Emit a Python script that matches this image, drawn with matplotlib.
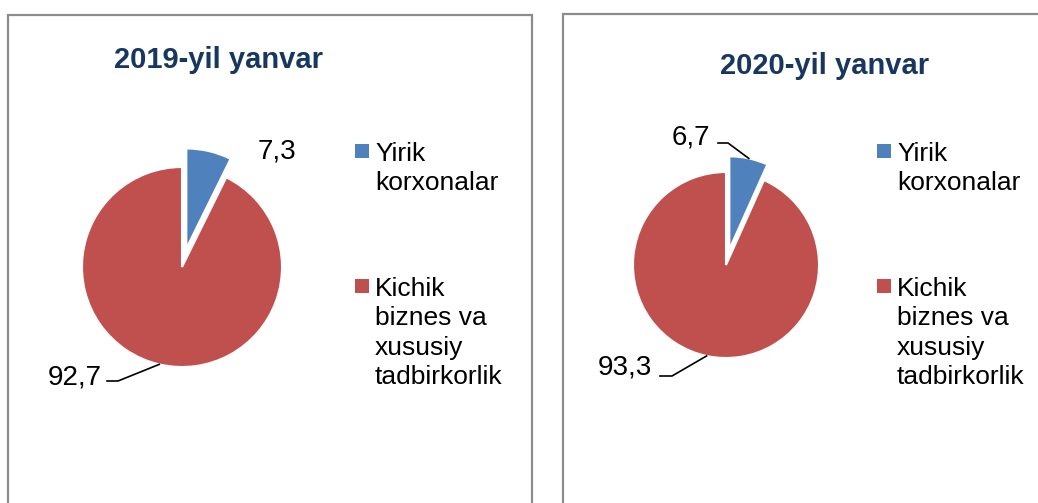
"""
Two pie charts: share of large enterprises vs small business, Jan 2019 / Jan 2020.
"""

import numpy as np
import matplotlib
matplotlib.use("Agg")
import matplotlib.pyplot as plt
from matplotlib.patches import Rectangle

plt.rcParams['font.family'] = ['Liberation Sans', 'DejaVu Sans']

# data
categories = ["Yirik\nkorxonalar", "Kichik\nbiznes va\nxususiy\ntadbirkorlik"]
titles = ["2019-yil yanvar", "2020-yil yanvar"]
values_2019 = [7.3, 92.7]
values_2020 = [6.7, 93.3]
value_labels_2019 = ["7,3", "92,7"]
value_labels_2020 = ["6,7", "93,3"]

colors = ["#4F81BD", "#C0504D"]
title_color = "#17375E"
border_color = "#8C8C8C"

W, H = 1038, 503
fig = plt.figure(figsize=(W / 100, H / 100), dpi=100)


def px_axes(cx, cy, size=300):
    """Axes of size x size pixels centred on (cx, cy), cy measured from the top."""
    ax = fig.add_axes([(cx - size / 2) / W, (H - cy - size / 2) / H, size / W, size / H])
    ax.axis("off")
    return ax


def fix_limits(ax, size=300):
    # pie() resets the limits, so put them back: 1 data unit = 100 px
    ax.set_xlim(-size / 200, size / 200)
    ax.set_ylim(-size / 200, size / 200)
    ax.set_aspect("equal")


def mid_edge(values, i, radius, explode):
    total = sum(values)
    cum = sum(values[:i])
    theta = np.deg2rad(90 - 360 * (cum + values[i] / 2) / total)
    off = explode[i]
    return ((radius + off) * np.cos(theta), (radius + off) * np.sin(theta))


def draw_panel(x0, x1, top):
    fig.add_artist(Rectangle((x0 / W, -0.05), (x1 - x0) / W, (H - top) / H + 0.05,
                             transform=fig.transFigure, fill=False,
                             ec=border_color, lw=1.6))


def draw_legend(xm, xt):
    marker_tops = [144, 279]
    for i, lab in enumerate(categories):
        fig.add_artist(Rectangle((xm / W, (H - marker_tops[i] - 14) / H), 14 / W, 14 / H,
                                 transform=fig.transFigure, color=colors[i], lw=0))
        fig.text(xt / W, (H - marker_tops[i] + 2) / H, lab, ha="left", va="top",
                 fontsize=19, linespacing=1.28)


# panels
draw_panel(8, 532, 15)
draw_panel(563, 1060, 14)

# 2019
fig.text(218 / W, (H - 60) / H, titles[0], ha="center", va="center",
         fontsize=21, fontweight="bold", color=title_color)
ax1 = px_axes(182, 267)
r1 = 1.0
exp1 = [0.19, 0.0]
ax1.pie(values_2019, colors=colors, startangle=90, counterclock=False,
        radius=r1, explode=exp1, wedgeprops=dict(edgecolor="white", linewidth=1.5))
fix_limits(ax1)
ax1.text(0.95, 1.16, value_labels_2019[0], ha="center", va="center", fontsize=20)
ax1.text(-0.80, -1.10, value_labels_2019[1], ha="right", va="center", fontsize=20)
ex, ey = mid_edge(values_2019, 1, r1, exp1)
ax1.plot([-0.75, -0.64, ex], [-1.14, -1.14, ey], color="black", lw=1.2, clip_on=False)
draw_legend(355, 375)

# 2020
fig.text(825 / W, (H - 66) / H, titles[1], ha="center", va="center",
         fontsize=21, fontweight="bold", color=title_color)
ax2 = px_axes(726, 265)
r2 = 0.93
exp2 = [0.16, 0.0]
ax2.pie(values_2020, colors=colors, startangle=90, counterclock=False,
        radius=r2, explode=exp2, wedgeprops=dict(edgecolor="white", linewidth=1.5))
fix_limits(ax2)
ax2.text(-0.16, 1.27, value_labels_2020[0], ha="right", va="center", fontsize=20)
ax2.text(-0.74, -1.03, value_labels_2020[1], ha="right", va="center", fontsize=20)
ex, ey = mid_edge(values_2020, 0, r2, exp2)
ax2.plot([-0.08, 0.02, ex], [1.22, 1.22, ey], color="black", lw=1.2, clip_on=False)
ex, ey = mid_edge(values_2020, 1, r2, exp2)
ax2.plot([-0.66, -0.54, ex], [-1.11, -1.11, ey], color="black", lw=1.2, clip_on=False)
draw_legend(877, 897)

fig.savefig("out.png", dpi=100)
